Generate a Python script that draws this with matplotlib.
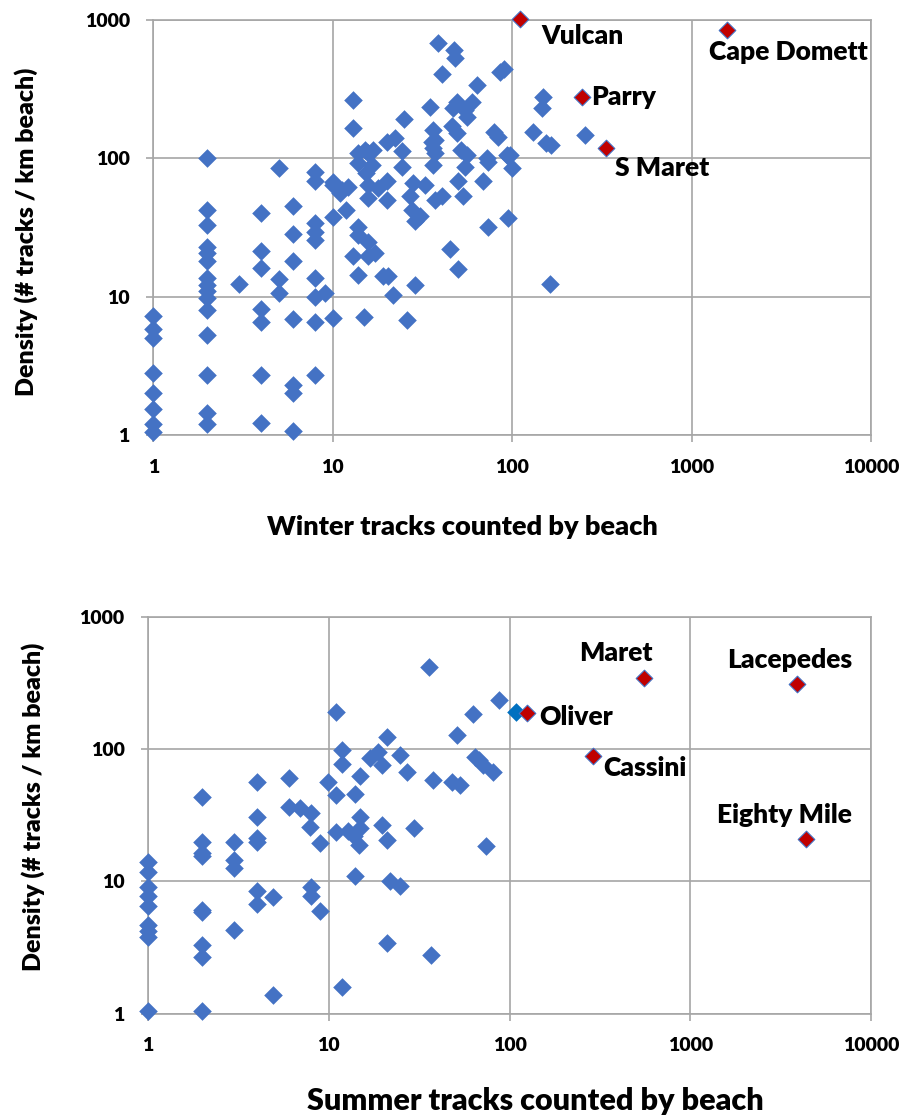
import matplotlib
matplotlib.use("Agg")
import matplotlib.pyplot as plt
from matplotlib.ticker import FixedLocator, NullLocator

plt.rcParams['font.family'] = ['Lato', 'DejaVu Sans']
plt.rcParams['font.weight'] = 'heavy'
plt.rcParams['axes.labelweight'] = 'heavy'

# winter: tracks counted vs density (blue points)
winter_x = [1, 1, 1, 1, 1, 1, 1, 1,
            2, 2, 2, 2, 2, 2, 2, 2, 2, 2, 2, 2, 2, 2, 2,
            3,
            4, 4, 4, 4, 4, 4, 4,
            5, 5, 5,
            6, 6, 6, 6, 6, 6, 6,
            8, 8, 8, 8, 8, 8, 8, 8, 8,
            9,
            10, 10, 10, 10,
            11, 11.2, 11.9, 12.2,
            13, 13, 13,
            13.9, 13.9, 13.9, 13.9, 13.9,
            15.1, 15.8, 15.8, 15.8, 15.8, 15.8, 15.4, 16.5, 16.8, 17.2, 17.9, 14.9,
            19.1, 20.4, 20, 20, 20, 21.7, 22.2, 24.2, 24.2, 25, 25.8,
            27, 27.5, 28, 28.7, 28.7, 30.6, 32.6, 34.8, 35.6, 36.3, 36.3, 36.3, 37, 37, 37,
            38.7, 40.4, 40.7, 45, 46, 47, 47.5, 47.9, 49, 49, 50, 50, 52, 53.3, 54.5, 54.5, 55.6, 55.6, 59.4, 63.8,
            69, 72, 73.5, 73.5, 79.4, 83, 85, 90, 94, 95, 95, 97, 99,
            131, 146, 149, 155, 165, 162, 254]
winter_y = [7.2, 5.8, 5.0, 2.8, 2.0, 1.55, 1.2, 1.05,
            100, 42, 33, 23, 20.5, 18, 13.6, 12.2, 10.9, 9.7, 8.0, 5.3, 2.7, 1.45, 1.2,
            12.3,
            40, 21.5, 16, 8.2, 6.6, 2.7, 1.23,
            85, 13.4, 10.7,
            45, 28.4, 18, 6.9, 2.3, 2.0, 1.07,
            80, 68, 34, 29.5, 25.7, 13.6, 10, 6.6, 2.7,
            10.6,
            67, 64, 37.5, 7.0,
            56, 59, 42, 62,
            264, 165, 19.5,
            109, 92, 32, 28, 14.4,
            115, 109, 64, 51.5, 25, 19.5, 78, 90, 115, 20.6, 61, 7.1,
            14, 14, 131, 68, 50, 10.3, 140, 112, 87, 193, 6.8,
            53, 42, 66, 35, 12.2, 38, 64, 233, 132, 160, 118, 90, 109, 136, 50,
            680, 53, 405, 22, 170, 230, 608, 530, 257, 152, 68, 15.8, 115, 53, 224, 87, 200, 106, 257, 340,
            68, 100, 94, 32, 156, 143, 420, 445, 105, 103, 37, 106, 85,
            156, 230, 279, 129, 125, 12.4, 148]

winter_names = ['Vulcan', 'Cape Domett', 'Parry', 'S Maret']
winter_hx = [110, 1577, 244, 331]
winter_hy = [1014, 848, 279, 119]

# summer
summer_x = [1, 1, 1, 1, 1, 1, 1, 1, 1,
            2, 2, 2, 2, 2, 2, 2, 2, 2,
            3, 3, 3, 3,
            4, 4, 4, 4, 4, 4,
            4.9, 4.9, 6, 6, 6.9, 8, 8, 8, 7.9, 8.9, 8.9, 9.9,
            11, 11, 10.9, 11.9, 11.9, 11.9, 12.8, 13.7, 14.9, 14.6, 14, 14, 14.9, 14.9,
            16.9, 18.8, 19.6, 19.6, 20.9, 20.9, 20.9, 21.8, 24.8, 24.8, 27, 29.7,
            35.8, 36.7, 37.8, 47.8, 51, 53, 62.5, 64.4, 68, 71.6, 73.8, 81.3, 87.4]
summer_y = [14, 11.8, 9.1, 7.7, 6.5, 4.7, 4.2, 3.8, 1.05,
            43.6, 20, 16.3, 15.5, 6.1, 5.9, 3.3, 2.7, 1.05,
            20, 14.5, 12.6, 4.3,
            56.7, 30.8, 21.2, 20, 8.4, 6.8,
            7.6, 1.38, 60, 36.7, 35.7, 32.7, 9.0, 7.7, 25.9, 19.4, 6.0, 56.7,
            192, 45, 23.7, 98, 77, 1.58, 24, 22, 25.2, 18.8, 46, 11, 62, 30.8,
            85, 95.5, 76, 26.7, 124, 20.6, 3.4, 10, 90, 9.2, 66.5, 25.2,
            420, 2.8, 58, 56.7, 128, 53.5, 184, 87.6, 82, 76, 18.6, 67.5, 235]
summer_dark_x = [108]
summer_dark_y = [192]

summer_names = ['Maret', 'Lacepedes', 'Oliver', 'Cassini', 'Eighty Mile']
summer_hx = [556, 3873, 124, 290, 4357]
summer_hy = [347, 309, 187, 88.7, 20.8]

assert len(winter_x) == len(winter_y)
assert len(summer_x) == len(summer_y)

BLUE = '#4472C4'
RED = '#C00000'
GRID = '#A6A6A6'

fig = plt.figure(figsize=(9.06, 11.19), dpi=100)
ax1 = fig.add_axes([0.1692, 0.6113, 0.7925, 0.3709])
ax2 = fig.add_axes([0.1634, 0.0941, 0.7982, 0.3548])


def style(ax, xlabel, xsize, xlab_pos, ylab_pos):
    ax.set_xscale('log')
    ax.set_yscale('log')
    ax.set_xlim(1, 10000)
    ax.set_ylim(1, 1000)
    ax.xaxis.set_major_locator(FixedLocator([1, 10, 100, 1000, 10000]))
    ax.yaxis.set_major_locator(FixedLocator([1, 10, 100, 1000]))
    ax.xaxis.set_minor_locator(NullLocator())
    ax.yaxis.set_minor_locator(NullLocator())
    ax.set_xticklabels(['1', '10', '100', '1000', '10000'])
    ax.set_yticklabels(['1', '10', '100', '1000'])
    ax.grid(True, color=GRID, lw=1.2, zorder=0)
    ax.set_axisbelow(True)
    for s in ax.spines.values():
        s.set_color(GRID)
        s.set_linewidth(1.2)
    ax.tick_params(length=5, width=1.2, color=GRID, labelsize=14)
    ax.tick_params(axis='x', pad=12)
    ax.tick_params(axis='y', pad=12)
    ax.set_xlabel(xlabel, fontsize=xsize, fontweight='heavy')
    ax.set_ylabel('Density (# tracks / km beach)', fontsize=18, fontweight='heavy')
    ax.xaxis.set_label_coords(*xlab_pos)
    ax.yaxis.set_label_coords(*ylab_pos)


style(ax1, 'Winter tracks counted by beach', 19.5, (0.43, -0.193), (-0.161, 0.49))
style(ax2, 'Summer tracks counted by beach', 22, (0.535, -0.185), (-0.143, 0.52))

ax1.scatter(winter_x, winter_y, marker='D', s=90, color=BLUE, lw=0, zorder=3, clip_on=False)
ax1.scatter(winter_hx, winter_hy, marker='D', s=72, facecolor=RED, edgecolor=BLUE,
            lw=0.8, zorder=4, clip_on=False)

ax2.scatter(summer_x, summer_y, marker='D', s=90, color=BLUE, lw=0, zorder=3, clip_on=False)
ax2.scatter(summer_dark_x, summer_dark_y, marker='D', s=90, color='#0070C0', lw=0, zorder=3)
ax2.scatter(summer_hx, summer_hy, marker='D', s=72, facecolor=RED, edgecolor=BLUE,
            lw=0.8, zorder=4, clip_on=False)

lab_kw = dict(textcoords='offset points', fontsize=19, va='center', annotation_clip=False)
w_off = [(15.6, -12.5, 'left'), (-13.2, -15.8, 'left'), (6.7, 0, 'left'), (6.7, -14.6, 'left')]
for n, x, y, (dx, dy, ha) in zip(winter_names, winter_hx, winter_hy, w_off):
    ax1.annotate(n, (x, y), xytext=(dx, dy), ha=ha, **lab_kw)

s_off = [(6, 17.6, 'right'), (-5.3, 17.5, 'center'), (9, -2.9, 'left'),
         (7.2, -8.9, 'left'), (-15.5, 17.5, 'center')]
for n, x, y, (dx, dy, ha) in zip(summer_names, summer_hx, summer_hy, s_off):
    ax2.annotate(n, (x, y), xytext=(dx, dy), ha=ha, **lab_kw)

fig.savefig('out.png', dpi=100)
